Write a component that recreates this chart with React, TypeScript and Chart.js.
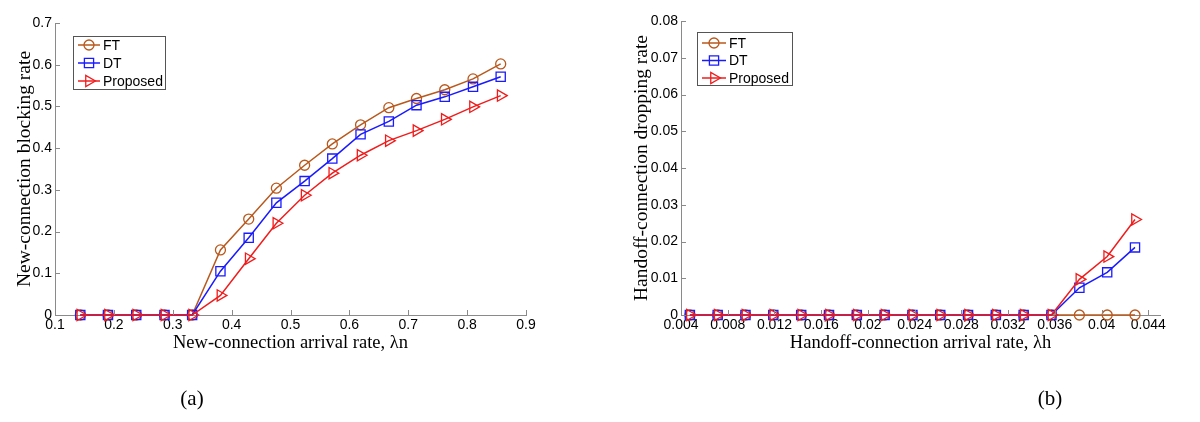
import React, { useEffect, useRef } from 'react';
import { Chart, registerables } from 'chart.js';
Chart.register(...registerables);

// ---------- data: chart (a) ----------
const newArrival = [0.143, 0.19, 0.238, 0.286, 0.333, 0.381, 0.429, 0.476, 0.524, 0.571, 0.619, 0.667, 0.714, 0.762, 0.81, 0.857];
const blockFT = [0, 0, 0, 0, 0, 0.156, 0.23, 0.304, 0.359, 0.41, 0.456, 0.497, 0.519, 0.54, 0.566, 0.602];
const blockDT = [0, 0, 0, 0, 0, 0.105, 0.185, 0.269, 0.321, 0.375, 0.433, 0.464, 0.503, 0.523, 0.547, 0.571];
const blockProposed = [0, 0, 0, 0, 0, 0.047, 0.135, 0.22, 0.287, 0.34, 0.383, 0.418, 0.442, 0.469, 0.499, 0.526];
const xTicksA = [0.1, 0.2, 0.3, 0.4, 0.5, 0.6, 0.7, 0.8, 0.9];
const yTicksA = [0, 0.1, 0.2, 0.3, 0.4, 0.5, 0.6, 0.7];

// ---------- data: chart (b) ----------
const handoffArrival = [0.00476, 0.00714, 0.00952, 0.0119, 0.01429, 0.01667, 0.01905, 0.02143, 0.02381, 0.02619, 0.02857, 0.03095, 0.03333, 0.03571, 0.0381, 0.04048, 0.04286];
const dropFT = [0, 0, 0, 0, 0, 0, 0, 0, 0, 0, 0, 0, 0, 0, 0, 0, 0];
const dropDT = [0, 0, 0, 0, 0, 0, 0, 0, 0, 0, 0, 0, 0, 0, 0.0074, 0.0116, 0.0184];
const dropProposed = [0, 0, 0, 0, 0, 0, 0, 0, 0, 0, 0, 0, 0, 0, 0.0097, 0.0159, 0.026];
const xTicksB = [0.004, 0.008, 0.012, 0.016, 0.02, 0.024, 0.028, 0.032, 0.036, 0.04, 0.044];
const yTicksB = [0, 0.01, 0.02, 0.03, 0.04, 0.05, 0.06, 0.07, 0.08];

const seriesNames = ['FT', 'DT', 'Proposed'];
const COLORS = ['#b9581c', '#1a1aff', '#f01c1c'];
const STYLES = ['circle', 'rect', 'triangle'];
const RADII = [5, 6.5, 6.5];
const AXIS = '#8a8a8a';

function drawMarker(ctx: CanvasRenderingContext2D, style: string, x: number, y: number, r: number) {
  ctx.beginPath();
  if (style === 'circle') {
    ctx.arc(x, y, r, 0, Math.PI * 2);
  } else if (style === 'rect') {
    const s = r * Math.SQRT1_2;
    ctx.rect(x - s, y - s, 2 * s, 2 * s);
  } else {
    let rad = Math.PI / 2;
    ctx.moveTo(x + Math.sin(rad) * r, y - Math.cos(rad) * r);
    rad += (2 * Math.PI) / 3;
    ctx.lineTo(x + Math.sin(rad) * r, y - Math.cos(rad) * r);
    rad += (2 * Math.PI) / 3;
    ctx.lineTo(x + Math.sin(rad) * r, y - Math.cos(rad) * r);
    ctx.closePath();
  }
  ctx.stroke();
}

type Params = {
  xs: number[];
  ys: number[][];
  xMin: number;
  xMax: number;
  yMax: number;
  xTicks: number[];
  yTicks: number[];
  xTitle: string;
  yTitle: string;
  yAxisWidth: number;
  yTitlePad: number;
  padTop: number;
  padRight: number;
  legend: { dx: number; dy: number; w: number; h: number; row0: number; rowGap: number; lineL: number; lineR: number; textX: number };
};

function makeConfig(p: Params): any {
  const innerTicks = {
    id: 'innerTicks',
    afterDraw(chart: any) {
      const { ctx, chartArea } = chart;
      const xs = chart.scales.x;
      const ys = chart.scales.y;
      ctx.save();
      ctx.strokeStyle = AXIS;
      ctx.lineWidth = 1;
      ctx.beginPath();
      xs.ticks.forEach((t: any) => {
        const px = Math.round(xs.getPixelForValue(t.value)) + 0.5;
        ctx.moveTo(px, chartArea.bottom);
        ctx.lineTo(px, chartArea.bottom - 5);
      });
      ys.ticks.forEach((t: any) => {
        const py = Math.round(ys.getPixelForValue(t.value)) + 0.5;
        ctx.moveTo(chartArea.left, py);
        ctx.lineTo(chartArea.left + 5, py);
      });
      ctx.stroke();
      ctx.restore();
    },
  };
  const legendBox = {
    id: 'legendBox',
    afterDraw(chart: any) {
      const { ctx, chartArea } = chart;
      const L = p.legend;
      const bx = chartArea.left + L.dx;
      const by = chartArea.top + L.dy;
      ctx.save();
      ctx.fillStyle = '#ffffff';
      ctx.fillRect(bx, by, L.w, L.h);
      ctx.strokeStyle = '#555555';
      ctx.lineWidth = 1;
      ctx.strokeRect(bx + 0.5, by + 0.5, L.w, L.h);
      ctx.font = '14px "Liberation Sans", Arial, sans-serif';
      ctx.textBaseline = 'middle';
      ctx.textAlign = 'left';
      seriesNames.forEach((name, i) => {
        const y = by + L.row0 + i * L.rowGap;
        ctx.strokeStyle = COLORS[i];
        ctx.lineWidth = 1.5;
        ctx.beginPath();
        ctx.moveTo(bx + L.lineL, y);
        ctx.lineTo(bx + L.lineR, y);
        ctx.stroke();
        ctx.lineWidth = 1.3;
        drawMarker(ctx, STYLES[i], bx + (L.lineL + L.lineR) / 2, y, RADII[i]);
        ctx.fillStyle = '#000';
        ctx.fillText(name, bx + L.textX, y + 1);
      });
      ctx.restore();
    },
  };

  const datasets = seriesNames.map((name, i) => ({
    label: name,
    data: p.xs.map((x, k) => ({ x, y: p.ys[i][k] })),
    borderColor: COLORS[i],
    backgroundColor: 'rgba(0,0,0,0)',
    borderWidth: 1.5,
    pointStyle: STYLES[i],
    pointRotation: STYLES[i] === 'triangle' ? 90 : 0,
    pointRadius: RADII[i],
    pointBorderWidth: 1.3,
    pointBorderColor: COLORS[i],
    pointBackgroundColor: 'rgba(0,0,0,0)',
    tension: 0,
    clip: false,
    order: 3 - i,
  }));

  const tickFont = { family: '"Liberation Sans", Arial, sans-serif', size: 14 };
  const xTitleFont = { family: '"Liberation Serif", "Times New Roman", serif', size: 18.5, lineHeight: 1 };
  const yTitleFont = { family: '"Liberation Serif", "Times New Roman", serif', size: 19.5, lineHeight: 1 };

  return {
    type: 'line',
    data: { datasets },
    options: {
      animation: false,
      responsive: false,
      maintainAspectRatio: false,
      layout: { padding: { top: p.padTop, right: p.padRight, left: 0, bottom: 0 } },
      plugins: { legend: { display: false }, tooltip: { enabled: false } },
      scales: {
        x: {
          type: 'linear',
          min: p.xMin,
          max: p.xMax,
          afterBuildTicks: (s: any) => {
            s.ticks = p.xTicks.map((v) => ({ value: v }));
          },
          afterFit: (s: any) => {
            s.height = 107;
          },
          grid: { display: false, drawTicks: false },
          border: { display: true, color: AXIS, width: 1 },
          ticks: {
            color: '#000',
            font: tickFont,
            padding: 2,
            maxRotation: 0,
            autoSkip: false,
            callback: (v: number) => String(v),
          },
          title: {
            display: true,
            text: p.xTitle,
            color: '#000',
            font: xTitleFont,
            padding: { top: 0, bottom: 70 },
          },
        },
        y: {
          type: 'linear',
          min: 0,
          max: p.yMax,
          afterBuildTicks: (s: any) => {
            s.ticks = p.yTicks.map((v) => ({ value: v }));
          },
          afterFit: (s: any) => {
            s.width = p.yAxisWidth;
          },
          grid: { display: false, drawTicks: false },
          border: { display: true, color: AXIS, width: 1 },
          ticks: {
            color: '#000',
            font: tickFont,
            padding: 3,
            autoSkip: false,
            callback: (v: number) => String(v),
          },
          title: {
            display: true,
            text: p.yTitle,
            color: '#000',
            font: yTitleFont,
            padding: { top: p.yTitlePad, bottom: 0 },
          },
        },
      },
    },
    plugins: [innerTicks, legendBox],
  };
}

function ChartCanvas({ params, left }: { params: Params; left: number }) {
  const ref = useRef<HTMLCanvasElement | null>(null);
  useEffect(() => {
    if (!ref.current) return;
    const chart = new Chart(ref.current, makeConfig(params));
    return () => chart.destroy();
  }, [params]);
  return (
    <canvas
      ref={ref}
      width={600}
      height={422}
      style={{ position: 'absolute', left, top: 0, width: 600, height: 422 }}
    />
  );
}

const paramsA: Params = {
  xs: newArrival,
  ys: [blockFT, blockDT, blockProposed],
  xMin: 0.1,
  xMax: 0.9,
  yMax: 0.7,
  xTicks: xTicksA,
  yTicks: yTicksA,
  xTitle: 'New-connection arrival rate, λn',
  yTitle: 'New-connection blocking rate',
  yAxisWidth: 55,
  yTitlePad: 15.5,
  padTop: 23,
  padRight: 74,
  legend: { dx: 18, dy: 13, w: 92, h: 53, row0: 9, rowGap: 18, lineL: 5, lineR: 27, textX: 30 },
};

const paramsB: Params = {
  xs: handoffArrival,
  ys: [dropFT, dropDT, dropProposed],
  xMin: 0.004,
  xMax: 0.045,
  yMax: 0.08,
  xTicks: xTicksB,
  yTicks: yTicksB,
  xTitle: 'Handoff-connection arrival rate, λh',
  yTitle: 'Handoff-connection dropping rate',
  yAxisWidth: 81,
  yTitlePad: 32,
  padTop: 21,
  padRight: 40,
  legend: { dx: 16, dy: 11, w: 95, h: 53, row0: 11, rowGap: 17.5, lineL: 5, lineR: 29, textX: 32 },
};

export default function App() {
  const capStyle: React.CSSProperties = {
    position: 'absolute',
    top: 386,
    fontFamily: '"Liberation Serif", "Times New Roman", serif',
    fontSize: 21,
    lineHeight: '24px',
    color: '#000',
    transform: 'translateX(-50%)',
  };
  return (
    <div style={{ position: 'absolute', left: 0, top: 0, width: 1200, height: 422, background: '#fff', overflow: 'hidden' }}>
      <ChartCanvas params={paramsA} left={0} />
      <ChartCanvas params={paramsB} left={600} />
      <div style={{ ...capStyle, left: 192 }}>(a)</div>
      <div style={{ ...capStyle, left: 1050 }}>(b)</div>
    </div>
  );
}
